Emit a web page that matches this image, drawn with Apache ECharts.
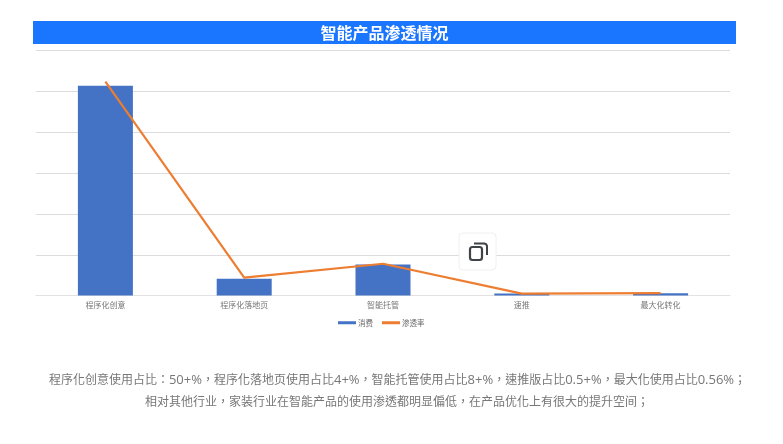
<!DOCTYPE html>
<html><head><meta charset="utf-8">
<style>html,body{margin:0;padding:0;background:#fff}#c{width:783px;height:444px}</style>
<script src="https://cdn.jsdelivr.net/npm/echarts@6/dist/echarts.min.js"></script>
</head><body><div id="c"></div>
<script>
const categories = ['程序化创意','程序化落地页','智能托管','速推','最大化转化'];
const spend = [51.4, 4.1, 7.6, 0.5, 0.56];
const rate = [52.4, 4.4, 7.8, 0.5, 0.6];
const titleText = '智能产品渗透情况';
const note1 = '程序化创意使用占比：50+%，程序化落地页使用占比4+%，智能托管使用占比8+%，速推版占比0.5+%，最大化使用占比0.56%；';
const note2 = '相对其他行业，家装行业在智能产品的使用渗透都明显偏低，在产品优化上有很大的提升空间；';
const font = '"Noto Sans CJK SC","Noto Sans",sans-serif';
const noteFont = '"Open Sans","Noto Sans CJK TC",sans-serif';
const latinRuns = s => s.replace(/[0-9.+%]+/g, m => '{l|' + m + '}');
const noteRich = {l:{font:'13px '+noteFont,fill:'#777',padding:[0,0,2,0]}};
const chart = echarts.init(document.getElementById('c'), null, {renderer:'canvas'});
chart.setOption({
  animation:false,
  backgroundColor:'#fff',
  textStyle:{fontFamily:font},
  grid:{left:36,top:50.6,width:694,height:245},
  legend:{
    top:314,left:333,itemWidth:18,itemHeight:3,itemGap:9,icon:'rect',
    textStyle:{fontSize:7.5,color:'#666',padding:[0,0,0,-3]},
    data:['消费','渗透率']
  },
  xAxis:{type:'category',data:categories,
    axisTick:{show:false},
    axisLine:{lineStyle:{color:'#e2e2e2',width:1}},
    axisLabel:{fontSize:8,color:'#777',margin:5}},
  yAxis:{type:'value',min:0,max:60,interval:10,
    axisLabel:{show:false},axisLine:{show:false},axisTick:{show:false},
    splitLine:{lineStyle:{color:'#dcdcdc',width:1}}},
  series:[
    {name:'消费',type:'bar',data:spend,barWidth:55,itemStyle:{color:'#4472c4'}},
    {name:'渗透率',type:'line',data:rate,symbol:'none',z:5,
      lineStyle:{color:'#ed7d31',width:2.2},itemStyle:{color:'#ed7d31'}}
  ],
  graphic:[
    {type:'rect',shape:{x:33,y:21,width:703,height:23},style:{fill:'#1a75ff'},z:10},
    {type:'text',x:384.5,y:32.5,z:11,style:{text:titleText,fill:'#fff',font:'bold 16px '+font,textAlign:'center',textVerticalAlign:'middle'}},
    {type:'rect',shape:{x:459,y:233,width:37,height:37,r:4},style:{fill:'#fff',stroke:'#f0f0f0',lineWidth:1},z:12},
    {type:'polyline',shape:{points:[[474,243.5],[484.5,243.5],[486.2,244.3],[487,246],[487,255]]},style:{fill:'none',stroke:'#3f4246',lineWidth:2},z:13},
    {type:'rect',shape:{x:470,y:247,width:12,height:13,r:2.5},style:{fill:'#fff',stroke:'#3f4246',lineWidth:2.2},z:14},
    {type:'text',x:397.5,y:381,z:5,style:{text:latinRuns(note1),rich:noteRich,fill:'#777',font:'12px '+noteFont,textAlign:'center',textVerticalAlign:'middle'}},
    {type:'text',x:397,y:403,z:5,style:{text:note2,fill:'#777',font:'12px '+noteFont,textAlign:'center',textVerticalAlign:'middle'}}
  ]
});
</script></body></html>
